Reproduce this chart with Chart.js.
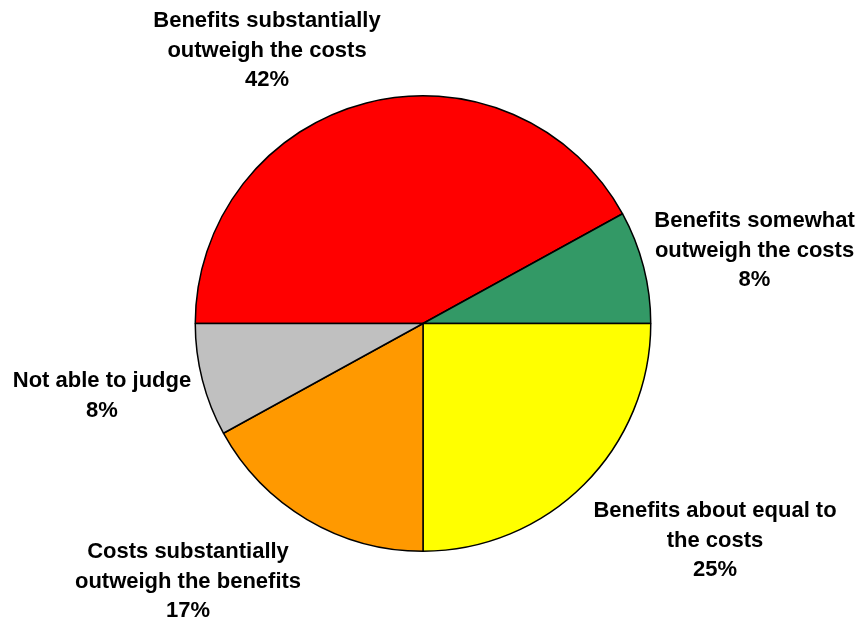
<!DOCTYPE html>
<html>
<head>
<meta charset="utf-8">
<title>Benefits vs costs</title>
<script src="https://cdn.jsdelivr.net/npm/chart.js@4.4.1/dist/chart.umd.min.js"></script>
<style>
  html, body { margin: 0; padding: 0; background: #fff; }
  #wrap { width: 862px; height: 620px; }
</style>
</head>
<body>
<div id="wrap"><canvas id="pie" width="862" height="620"></canvas></div>
<script>
// slice order runs clockwise from 9 o'clock
const CATEGORIES = [
  ['Benefits substantially', 'outweigh the costs'],
  ['Benefits somewhat', 'outweigh the costs'],
  ['Benefits about equal to', 'the costs'],
  ['Costs substantially', 'outweigh the benefits'],
  ['Not able to judge'],
];
const SHARES = [42, 8, 25, 17, 8];
const SLICE_COLORS = ['#ff0000', '#339966', '#ffff00', '#ff9900', '#c0c0c0'];

// where each label block sits, relative to the pie centre (x = centre of text, y = first baseline)
const LABEL_OFFSETS = [
  [-156, -296.5],
  [331.5, -96.5],
  [292, 193.5],
  [-235, 234.5],
  [-321, 63.5],
];
const LINE_H = 29.5;

const outsideLabels = {
  id: 'outsideLabels',
  afterDatasetsDraw(chart) {
    const ctx = chart.ctx;
    const arcs = chart.getDatasetMeta(0).data;
    ctx.save();
    ctx.font = 'bold 22px "Liberation Sans", Arial, sans-serif';
    ctx.fillStyle = '#000';
    ctx.textAlign = 'center';
    ctx.textBaseline = 'alphabetic';
    arcs.forEach((arc, i) => {
      const { x, y } = arc.getProps(['x', 'y'], true);
      const [dx, dy] = LABEL_OFFSETS[i];
      const lines = CATEGORIES[i].concat([SHARES[i] + '%']);
      lines.forEach((t, j) => ctx.fillText(t, x + dx, y + dy + j * LINE_H));
    });
    ctx.restore();
  }
};

new Chart(document.getElementById('pie'), {
  type: 'pie',
  data: {
    labels: CATEGORIES,
    datasets: [{
      data: SHARES,
      backgroundColor: SLICE_COLORS,
      borderColor: '#000',
      borderWidth: 1.5,
    }]
  },
  options: {
    responsive: false,
    animation: false,
    rotation: -90,
    layout: { padding: { top: 95, bottom: 68, left: 0, right: 16 } },
    plugins: { legend: { display: false }, tooltip: { enabled: false } },
  },
  plugins: [outsideLabels]
});
</script>
</body>
</html>
